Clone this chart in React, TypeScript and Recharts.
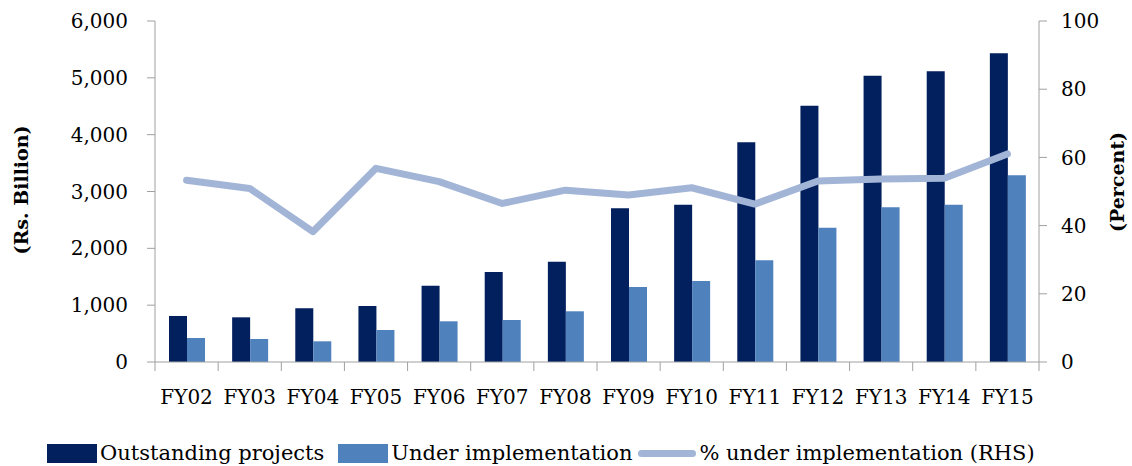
import { ComposedChart, Bar, Line, XAxis, YAxis, Label } from 'recharts'

const years = ['FY02', 'FY03', 'FY04', 'FY05', 'FY06', 'FY07', 'FY08', 'FY09', 'FY10', 'FY11', 'FY12', 'FY13', 'FY14', 'FY15']
const outstanding = [810, 786, 945, 985, 1343, 1584, 1765, 2704, 2768, 3866, 4510, 5038, 5115, 5432]
const underImpl = [422, 405, 364, 563, 716, 739, 892, 1320, 1425, 1789, 2363, 2722, 2768, 3285]
const pctUnderImpl = [53.3, 50.9, 38.2, 56.8, 52.9, 46.5, 50.4, 49.0, 51.1, 46.3, 53.1, 53.7, 53.9, 61.0]
const leftTicks = [0, 1000, 2000, 3000, 4000, 5000, 6000]
const rightTicks = [0, 20, 40, 60, 80, 100]

const data = years.map((year, i) => ({
  year,
  outstanding: outstanding[i],
  underImpl: underImpl[i],
  pct: pctUnderImpl[i],
}))

const FONT = '"DejaVu Serif", "Liberation Serif", serif'
const DARK = '#02205e'
const MID = '#4f81bd'
const LIGHT = '#a2b5d7'
const AXIS = '#a0a0a0'
const AXIS_Y = 362

const CategoryTick = (props: any) => {
  const { x, payload, index } = props
  const half = payload.offset ?? 0
  return (
    <g>
      <line x1={x - half} x2={x - half} y1={AXIS_Y} y2={AXIS_Y + 9} stroke={AXIS} />
      {index === years.length - 1 && (
        <line x1={x + half} x2={x + half} y1={AXIS_Y} y2={AXIS_Y + 9} stroke={AXIS} />
      )}
      <text x={x} y={AXIS_Y + 42} textAnchor="middle" fontFamily={FONT} fontSize={20} fill="#000">
        {payload.value}
      </text>
    </g>
  )
}

// legend kept outside the chart so it doesn't eat plot height
const ChartLegend = () => (
  <div
    style={{
      position: 'absolute',
      left: 47,
      top: 441,
      display: 'flex',
      alignItems: 'center',
      fontFamily: FONT,
      fontSize: 21,
      color: '#000',
      whiteSpace: 'nowrap',
    }}
  >
    <span style={{ width: 50, height: 19, background: DARK, display: 'inline-block', marginRight: 3 }} />
    <span style={{ marginRight: 14 }}>Outstanding projects</span>
    <span style={{ width: 50, height: 19, background: MID, display: 'inline-block', marginRight: 3 }} />
    <span style={{ marginRight: 6 }}>Under implementation</span>
    <span style={{ width: 58, height: 7, borderRadius: 4, background: LIGHT, display: 'inline-block', marginRight: 3 }} />
    <span>% under implementation (RHS)</span>
  </div>
)

const axisTitle = (text: string, x: number, y: number) => () => (
  <text
    x={0}
    y={0}
    transform={`translate(${x},${y}) rotate(-90)`}
    textAnchor="middle"
    fontFamily={FONT}
    fontWeight="bold"
    fontSize={19}
    fill="#000"
  >
    {text}
  </text>
)

export default function App() {
  return (
    <div style={{ position: 'absolute', left: 0, top: 0, width: 1132, height: 466, background: '#fff' }}>
      <ComposedChart
        width={1132}
        height={466}
        data={data}
        margin={{ top: 21, right: 0, bottom: 0, left: 0 }}
        barGap={0}
        barCategoryGap="22%"
      >
        <XAxis
          dataKey="year"
          height={104}
          axisLine={{ stroke: AXIS }}
          tickLine={false}
          interval={0}
          tick={<CategoryTick />}
        />
        <YAxis
          yAxisId="left"
          width={155}
          domain={[0, 6000]}
          ticks={leftTicks}
          tickFormatter={(v: number) => v.toLocaleString('en-US')}
          axisLine={{ stroke: AXIS }}
          tickLine={{ stroke: AXIS }}
          tickSize={8}
          tickMargin={19}
          tick={{ fill: '#000', fontFamily: FONT, fontSize: 20 }}
        >
          <Label content={axisTitle('(Rs. Billion)', 28, 190)} />
        </YAxis>
        <YAxis
          yAxisId="right"
          orientation="right"
          width={93}
          domain={[0, 100]}
          ticks={rightTicks}
          axisLine={{ stroke: AXIS }}
          tickLine={{ stroke: AXIS }}
          tickSize={8}
          tickMargin={14}
          tick={{ fill: '#000', fontFamily: FONT, fontSize: 20 }}
        >
          <Label content={axisTitle('(Percent)', 1124, 182)} />
        </YAxis>
        <Bar yAxisId="left" dataKey="outstanding" fill={DARK} barSize={18} isAnimationActive={false} />
        <Bar yAxisId="left" dataKey="underImpl" fill={MID} barSize={18} isAnimationActive={false} />
        <Line
          yAxisId="right"
          dataKey="pct"
          stroke={LIGHT}
          strokeWidth={7}
          strokeLinecap="round"
          strokeLinejoin="round"
          dot={false}
          type="linear"
          isAnimationActive={false}
        />
      </ComposedChart>
      <ChartLegend />
    </div>
  )
}
